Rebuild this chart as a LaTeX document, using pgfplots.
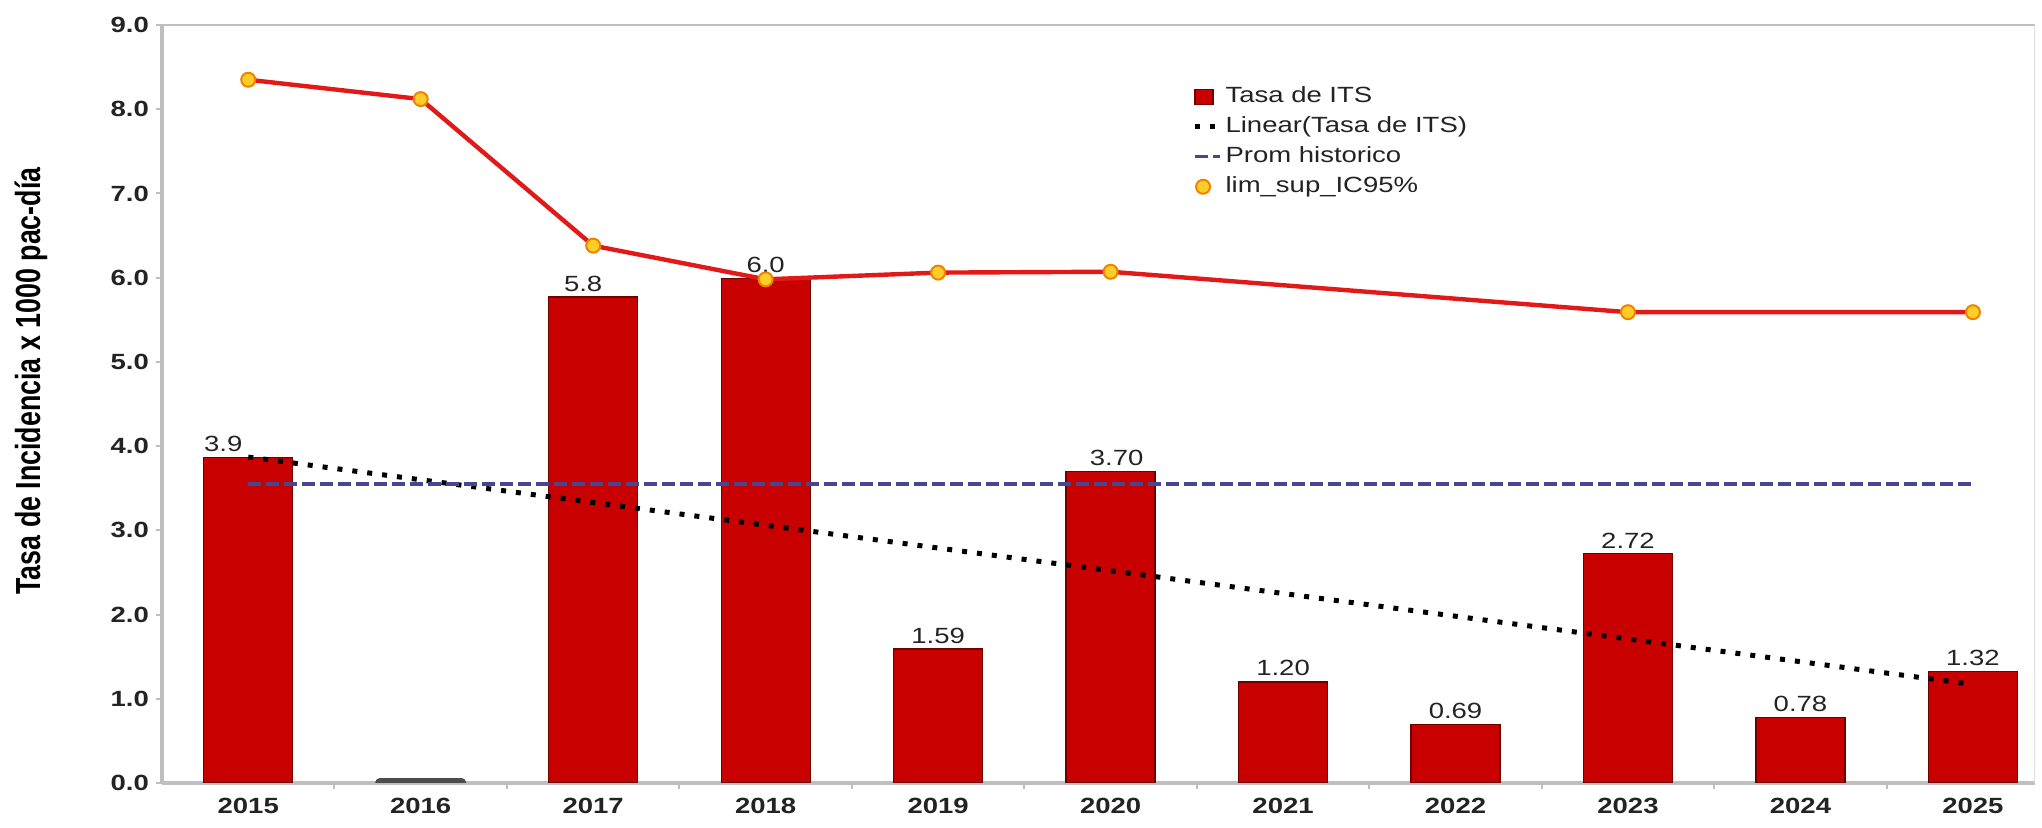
\documentclass[border=0pt]{standalone}
\usepackage{fontspec}
\setmainfont{Liberation Sans}[FakeStretch=1.25]
\newfontfamily\labfont{Liberation Sans}
\usepackage{pgfplots}
\pgfplotsset{compat=1.18}
\usepackage{pgfplotstable}
\usetikzlibrary{calc}
\definecolor{barred}{RGB}{200,0,0}
\definecolor{baredge}{RGB}{110,0,0}
\definecolor{linered}{RGB}{225,25,25}
\definecolor{mkfill}{RGB}{255,205,40}
\definecolor{mkedge}{RGB}{240,130,0}
\definecolor{navyd}{RGB}{70,70,145}
\definecolor{axgray}{RGB}{190,190,190}
\definecolor{txt}{RGB}{35,35,35}

\pgfplotsset{
  shortline/.style={legend image code/.code={\draw[##1] (0pt,0pt) -- (12.5pt,0pt);}},
  markonly/.style={legend image code/.code={\draw[##1] plot coordinates {(4pt,0pt)};}},
  squarebar/.style={legend image code/.code={\draw[fill=barred, draw=baredge] (0pt,-3.7pt) rectangle (9pt,3.7pt);}},
}

\pgfplotstableread{
x y lab dx
0 3.86 3.9 -12.5
2 5.77 5.8 -5
3 5.99 6.0 0
4 1.59 1.59 0
5 3.70 3.70 3
6 1.20 1.20 0
7 0.69 0.69 0
8 2.72 2.72 0
9 0.78 0.78 0
10 1.32 1.32 0
}\tasa

\pgfplotstableread{
x y
1 0
}\cero

\pgfplotstableread{
x y
0 3.87
10 1.17
}\lineal

\pgfplotstableread{
x y
0 3.55
10 3.55
}\prom

\pgfplotstableread{
x y
0 8.35
1 8.12
2 6.38
3 5.98
4 6.06
5 6.07
8 5.59
10 5.59
}\limsup

\begin{document}
\begin{tikzpicture}
\begin{axis}[
  scale only axis, width=936.5pt, height=379pt,
  xmin=-0.5, xmax=10.36, ymin=0, ymax=9,
  axis x line*=bottom, axis y line*=left,
  axis line style={-, axgray, line width=1.8pt},
  /pgf/number format/assume math mode=true,
  ytick={0,1,...,9},
  yticklabel style={/pgf/number format/fixed, /pgf/number format/fixed zerofill, /pgf/number format/precision=1},
  xtick={0.5,1.5,...,9.5},
  xticklabels={},
  extra x ticks={0,1,...,10},
  extra x tick labels={2015,2016,2017,2018,2019,2020,2021,2022,2023,2024,2025},
  extra x tick style={major tick length=0pt},
  tick align=outside,
  major tick length=3pt,
  tick style={axgray, line width=1pt},
  tick label style={font=\bfseries\fontsize{11}{13}\selectfont, text=txt},
  xticklabel style={yshift=-4pt},
  legend cell align=left,
  legend style={at={(0.550,0.923)}, anchor=north west, draw=none, fill=none, inner sep=0pt, row sep=2pt,
    font=\fontsize{11}{13}\selectfont, text=txt,
    nodes={inner sep=1.5pt, text height=8pt, text depth=2pt}},
]
\addplot[ybar, bar shift=0pt, bar width=44.5pt, fill=barred, draw=baredge, line width=0.6pt,
  point meta=explicit symbolic,
  visualization depends on={\thisrow{dx} \as \dx},
  nodes near coords,
  nodes near coords style={font=\fontsize{11}{13}\selectfont, text=txt, inner sep=2.6pt, xshift=\dx pt},
  squarebar
  ] table[x=x, y=y, meta=lab] {\tasa};
\addlegendentry{Tasa de ITS}
\addplot[ybar, bar shift=0pt, bar width=41pt, draw=black!70, fill=black!70, line width=4.5pt, line cap=round, line join=round, forget plot] table[x=x,y=y] {\cero};
\addplot[black, line width=2.5pt, dash pattern=on 2.5pt off 5pt, shortline] table[x=x,y=y] {\lineal};
\addlegendentry{Linear(Tasa de ITS)}
\addplot[navyd, line width=1.6pt, dash pattern=on 6.5pt off 2.5pt, shortline] table[x=x,y=y] {\prom};
\addlegendentry{Prom historico}
\addplot[linered, line width=2.2pt, mark=*, mark size=3.5pt, mark options={fill=mkfill, draw=mkedge, line width=1pt}, markonly] table[x=x,y=y] {\limsup};
\addlegendentry{lim\_sup\_IC95\%}
\draw[axgray, line width=1.5pt] (rel axis cs:0,1) -- (rel axis cs:1,1);
\draw[black!12, line width=0.8pt] (rel axis cs:1,1) -- (rel axis cs:1,0);
\end{axis}
\node[rotate=90, text=black] at ($(current axis.west)+(-65.5pt,11.5pt)$)
  {\scalebox{1}[1.3]{\labfont\bfseries\fontsize{13.4}{16}\selectfont Tasa de Incidencia x 1000 pac-día}};
\pgfresetboundingbox
\path[use as bounding box] ($(current axis.south west)+(-81pt,-22.5pt)$) rectangle ($(current axis.north east)+(3.5pt,12.5pt)$);
\end{tikzpicture}
\end{document}
